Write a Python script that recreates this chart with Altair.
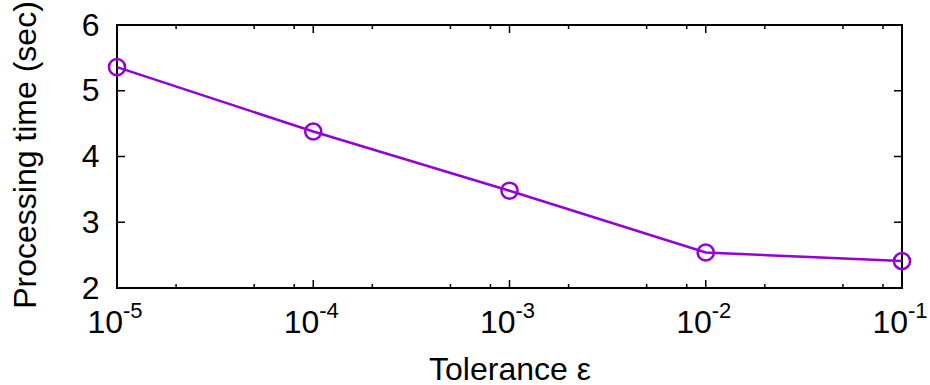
import altair as alt
import pandas as pd

tolerance = [1e-5, 1e-4, 1e-3, 1e-2, 1e-1]
proc_time = [5.36, 4.38, 3.48, 2.54, 2.41]
y_ticks = [2, 3, 4, 5, 6]
x_major = [1e-5, 1e-4, 1e-3, 1e-2, 1e-1]
x_minor = [2e-5, 5e-5, 8e-5, 2e-4, 5e-4, 8e-4, 2e-3, 5e-3, 8e-3, 2e-2, 5e-2, 8e-2]
x_exponents = ["-5", "-4", "-3", "-2", "-1"]

W, H = 785, 263
FONT = "Liberation Sans"
FS = 32
COLOR = "#9400D3"

df = pd.DataFrame({"tol": tolerance, "t": proc_time})
yt = pd.DataFrame({"v": y_ticks})
xmaj = pd.DataFrame({"v": x_major, "e": x_exponents, "b": ["10"] * len(x_major)})
xmin = pd.DataFrame({"v": x_minor})

xscale = alt.Scale(type="log", domain=[1e-5, 1e-1], nice=False)
yscale = alt.Scale(domain=[2, 6], nice=False, zero=False)

xenc = alt.X("tol:Q", scale=xscale,
             axis=alt.Axis(title="Tolerance ε", labels=False, ticks=False, domain=False,
                           grid=False, titleFont=FONT, titleFontSize=FS,
                           titleFontWeight="normal", titleColor="black",
                           titleBaseline="alphabetic", titleY=91, titleX=W / 2))
yenc = alt.Y("t:Q", scale=yscale,
             axis=alt.Axis(title="Processing time (sec)", values=y_ticks, format="d",
                           ticks=False, tickSize=0, domain=False, grid=False,
                           labelFont=FONT, labelFontSize=FS, labelColor="black",
                           labelPadding=18, titleFont=FONT, titleFontSize=FS,
                           titleFontWeight="normal", titleColor="black",
                           titleBaseline="alphabetic", titleAngle=270,
                           titleX=-82, titleY=H / 2 - 2))

line = alt.Chart(df).mark_line(color=COLOR, strokeWidth=2.5).encode(x=xenc, y=yenc)
pts = alt.Chart(df).mark_point(shape="circle", size=260, filled=False, color=COLOR,
                               strokeWidth=2.5, opacity=1).encode(x="tol:Q", y="t:Q")

TW = 1.5
ytl = alt.Chart(yt).mark_rule(color="black", strokeWidth=TW).encode(
    y=alt.Y("v:Q", scale=yscale), x=alt.value(0), x2=alt.value(8))
ytr = alt.Chart(yt).mark_rule(color="black", strokeWidth=TW).encode(
    y=alt.Y("v:Q", scale=yscale), x=alt.value(W), x2=alt.value(W - 8))

xmb = alt.Chart(xmaj).mark_rule(color="black", strokeWidth=TW).encode(
    x=alt.X("v:Q", scale=xscale), y=alt.value(H), y2=alt.value(H - 8))
xmt = alt.Chart(xmaj).mark_rule(color="black", strokeWidth=TW).encode(
    x=alt.X("v:Q", scale=xscale), y=alt.value(0), y2=alt.value(8))
xnb = alt.Chart(xmin).mark_rule(color="black", strokeWidth=TW).encode(
    x=alt.X("v:Q", scale=xscale), y=alt.value(H), y2=alt.value(H - 4))
xnt = alt.Chart(xmin).mark_rule(color="black", strokeWidth=TW).encode(
    x=alt.X("v:Q", scale=xscale), y=alt.value(0), y2=alt.value(4))

base_lbl = alt.Chart(xmaj).mark_text(font=FONT, fontSize=FS, align="right",
                                     baseline="alphabetic", dx=6, color="black").encode(
    x=alt.X("v:Q", scale=xscale), y=alt.value(308), text="b:N")
exp_lbl = alt.Chart(xmaj).mark_text(font=FONT, fontSize=22, align="left",
                                    baseline="alphabetic", dx=6, color="black").encode(
    x=alt.X("v:Q", scale=xscale), y=alt.value(293), text="e:N")

chart = alt.layer(line, pts, ytl, ytr, xmb, xmt, xnb, xnt, base_lbl, exp_lbl).properties(
    width=W, height=H,
    autosize=alt.AutoSizeParams(type="none"),
    padding={"left": 117, "top": 25, "right": 28, "bottom": 97},
    background="white",
).configure_view(stroke="black", strokeWidth=2)

chart.save("out.html", embed_options={"renderer": "svg", "actions": False})
